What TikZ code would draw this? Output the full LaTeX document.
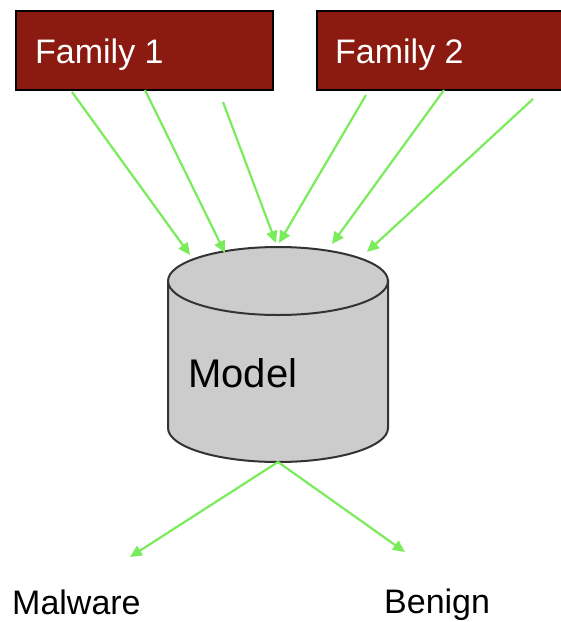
\documentclass[tikz,border=0pt]{standalone}
\usepackage{fontspec}
\setmainfont{Liberation Sans}
\usepackage{xcolor}
\usetikzlibrary{arrows.meta}

\definecolor{famred}{RGB}{139,26,16}
\definecolor{feedgreen}{RGB}{122,236,92}
\definecolor{modelgray}{RGB}{204,204,204}

\tikzset{
	family/.style={draw=black, line width=1.5pt, fill=famred},
	feed/.style={draw=feedgreen, line width=2.2pt, -{Triangle[length=12pt,width=11pt]}},
	label/.style={inner sep=0pt, anchor=base west, font=\fontsize{34}{40}\selectfont}
}

\begin{document}
\begin{tikzpicture}[x=1pt,y=-1pt]
		\useasboundingbox (0,0) rectangle (561,622);
		
		% the two families
		\draw[family] (16,11) rectangle (273,90);
		\draw[family] (317,11) rectangle (566,90);
		\node[label, white] (fam1) at (35,63) {Family 1};
		\node[label, white] (fam2) at (335,63) {Family 2};
		
		% the model
		\draw[fill=modelgray, draw=black!80, line width=2pt]
			(168,281) -- (168,428) arc[start angle=180, end angle=0, x radius=110, y radius=34]
			-- (388,281) -- cycle;
		\draw[fill=modelgray, draw=black!80, line width=2pt]
			(278,281) ellipse[x radius=110, y radius=34];
		\node[label, font=\fontsize{40}{46}\selectfont] (model) at (188,387) {Model};
		
		% samples fed to the model
		\coordinate (s1) at (72,92);   \coordinate (t1) at (190,255);
		\coordinate (s2) at (145,90);  \coordinate (t2) at (225,253);
		\coordinate (s3) at (223,102); \coordinate (t3) at (276,243);
		\coordinate (s4) at (366,95);  \coordinate (t4) at (279,243);
		\coordinate (s5) at (444,90);  \coordinate (t5) at (332,244);
		\coordinate (s6) at (533,99);  \coordinate (t6) at (367,252);
		\foreach \i in {1,...,6}{
			\draw[feed] (s\i) -- (t\i);
		}
		
		% output
		\coordinate (out) at (278,462);
		\coordinate (toMal) at (130,557);
		\coordinate (toBen) at (405,552);
		\draw[feed] (out) -- (toMal);
		\draw[feed] (out) -- (toBen);
		\node[label] (mal) at (12,614) {Malware};
		\node[label] (ben) at (384,613) {Benign};
	\end{tikzpicture}
\end{document}
